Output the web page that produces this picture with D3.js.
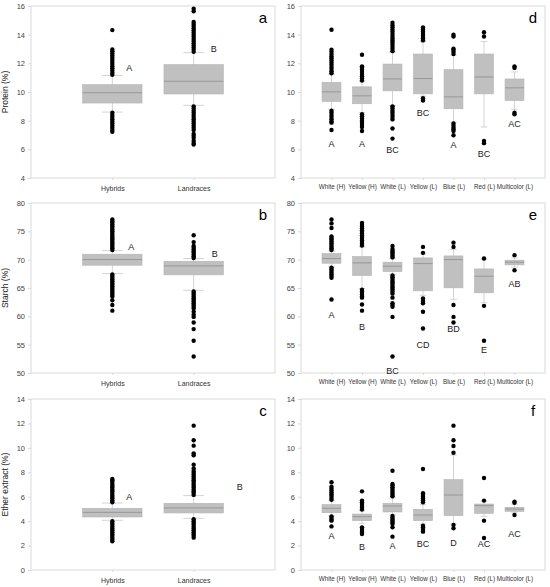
<!DOCTYPE html>
<html>
<head>
<meta charset="utf-8">
<script src="https://cdn.jsdelivr.net/npm/d3@7"></script>
<style>
  body { margin: 0; background: #fff; }
  svg { font-family: "Liberation Sans", Arial, sans-serif; }
</style>
</head>
<body>
<svg width="550" height="587"></svg>
<script>
// Categories
const groupCats = ["Hybrids", "Landraces"];
const colorCats = ["White (H)", "Yellow (H)", "White (L)", "Yellow (L)", "Blue (L)", "Red (L)", "Multicolor (L)"];

// Box stats per category: [lowWhisker, q1, median, q3, highWhisker]
// Panel a: protein by group
const proteinGroup = [
  [8.6, 9.23, 9.95, 10.51, 11.15],
  [9.07, 9.86, 10.75, 11.91, 12.75]
];
const proteinGroupOut = [
  [11.2, 11.35, 11.5, 11.65, 11.8, 11.95, 12.1, 12.25, 12.4, 12.55, 12.7, 12.85, 12.96, 14.32,
   8.55, 8.4, 8.25, 8.1, 7.95, 7.8, 7.65, 7.5, 7.35, 7.22],
  [12.8, 12.95, 13.1, 13.25, 13.4, 13.55, 13.7, 13.85, 14.0, 14.15, 14.3, 14.45, 14.6, 14.75, 14.88, 15.63, 15.81,
   9.0, 8.85, 8.7, 8.55, 8.4, 8.25, 8.1, 7.95, 7.8, 7.65, 7.5, 7.35, 7.08, 6.95, 6.8, 6.6, 6.45, 6.33]
];
const proteinGroupLetters = ["A", "B"];
const proteinGroupLetterY = [11.68, 12.99];

// Panel b: starch by group
const starchGroup = [
  [67.55, 69.02, 70.02, 70.96, 71.6],
  [64.6, 67.32, 68.9, 69.72, 70.2]
];
const starchGroupOut = [
  [71.7, 72.0, 72.3, 72.6, 72.9, 73.2, 73.5, 73.8, 74.1, 74.4, 74.7, 75.0, 75.3, 75.6, 75.9, 76.2, 76.5, 76.8, 77.1,
   67.4, 67.1, 66.8, 66.5, 66.2, 65.9, 65.6, 65.3, 65.0, 64.7, 64.4, 64.1, 63.8, 63.5, 62.85, 62.0, 61.0],
  [70.3, 70.6, 70.9, 71.2, 71.5, 71.8, 72.1, 72.4, 73.1, 74.3,
   64.4, 64.1, 63.8, 63.5, 63.2, 62.9, 62.6, 62.3, 62.0, 61.7, 61.4, 60.8, 60.3, 59.9, 58.9, 57.75, 55.7, 52.9]
];
const starchGroupLetters = ["A", "B"];
const starchGroupLetterY = [72.25, 70.96];

// Panel c: ether extract by group
const etherGroup = [
  [4.07, 4.34, 4.72, 5.05, 5.48],
  [4.23, 4.67, 5.08, 5.46, 6.09]
];
const etherGroupOut = [
  [5.55, 5.7, 5.85, 6.0, 6.15, 6.3, 6.45, 6.6, 6.75, 6.9, 7.05, 7.2, 7.35, 7.45,
   4.0, 3.85, 3.7, 3.55, 3.4, 3.25, 3.1, 2.95, 2.8, 2.65, 2.5, 2.35],
  [6.15, 6.3, 6.45, 6.6, 6.75, 6.9, 7.05, 7.2, 7.35, 7.5, 7.65, 7.8, 7.95, 8.1, 8.3, 8.62, 9.4, 9.55, 10.18, 10.62, 11.82,
   4.15, 4.0, 3.85, 3.7, 3.55, 3.4, 3.25, 3.1, 2.95, 2.8, 2.65]
];
const etherGroupLetters = ["A", "B"];
const etherGroupLetterY = [6.0, 6.77];

// Panel d: protein by colour
const proteinColor = [
  [8.79, 9.34, 10.01, 10.68, 11.24],
  [8.55, 9.18, 9.73, 10.36, 10.73],
  [9.06, 10.08, 10.91, 11.95, 12.79],
  [9.71, 9.87, 10.94, 12.65, 13.53],
  [7.9, 8.83, 9.66, 11.56, 12.58],
  [7.56, 9.87, 11.05, 12.65, 13.53],
  [8.79, 9.41, 10.29, 10.91, 11.4]
];
const proteinColorOut = [
  [11.3, 11.45, 11.6, 11.75, 11.9, 12.05, 12.2, 12.35, 12.5, 12.65, 12.8, 12.95, 14.34,
   8.7, 8.55, 8.4, 8.25, 8.1, 7.95, 7.86, 7.35],
  [10.8, 10.95, 11.1, 11.25, 11.4, 11.55, 11.7, 11.79, 12.6,
   8.45, 8.3, 8.15, 8.0, 7.85, 7.7, 7.56, 7.28],
  [12.85, 13.0, 13.15, 13.3, 13.45, 13.6, 13.75, 13.9, 14.05, 14.2, 14.35, 14.5, 14.65, 14.84,
   9.0, 8.85, 8.7, 8.55, 8.4, 8.25, 8.09, 7.45, 6.75],
  [13.6, 13.75, 13.9, 14.05, 14.2, 14.35, 14.5, 9.57, 9.41],
  [12.65, 12.8, 12.95, 13.02, 13.87, 14.0, 7.8, 7.65, 7.5, 7.38, 7.28, 6.98],
  [13.87, 14.17, 6.59, 6.43],
  [11.68, 11.79, 8.55, 8.44]
];
const proteinColorLetters = ["A", "A", "BC", "BC", "A", "BC", "AC"];
const proteinColorLetterY = [6.4, 6.4, 5.94, 8.55, 6.29, 5.71, 7.75];

// Panel e: starch by colour
const starchColor = [
  [68.73, 69.37, 70.19, 71.07, 71.54],
  [64.9, 67.2, 69.43, 70.55, 72.25],
  [67.4, 67.9, 68.84, 69.55, 70.2],
  [63.7, 64.5, 69.31, 70.31, 71.0],
  [63.0, 65.03, 70.02, 70.66, 71.8],
  [62.4, 64.15, 67.08, 68.37, 70.0],
  [68.7, 69.08, 69.55, 69.9, 70.3]
];
const starchColorOut = [
  [71.7, 72.0, 72.3, 72.6, 72.9, 73.2, 73.5, 73.8, 74.1, 75.6, 76.4, 77.1,
   68.6, 68.3, 68.0, 67.7, 67.4, 67.1, 66.8, 62.97],
  [72.5, 72.8, 73.1, 73.4, 73.7, 74.0, 74.3, 74.6, 74.9, 75.2, 75.5, 75.8, 76.1, 76.5,
   64.7, 64.4, 64.1, 63.8, 63.5, 63.3, 62.1, 61.0],
  [70.4, 70.7, 71.0, 71.3, 71.6, 71.9, 72.4,
   67.2, 66.9, 66.6, 66.3, 66.0, 65.7, 65.4, 65.1, 64.8, 64.4, 64.0, 63.3, 62.3, 62.0, 61.7, 59.9, 52.9],
  [71.2, 72.25, 63.15, 62.7, 62.3, 60.8, 57.86],
  [72.25, 73.0, 62.0, 59.9, 58.9],
  [70.2, 61.85, 55.7],
  [70.8, 68.14]
];
const starchColorLetters = ["A", "B", "BC", "CD", "BD", "E", "AB"];
const starchColorLetterY = [60.2, 58.1, 50.35, 54.93, 57.86, 54.0, 65.67];

// Panel f: ether extract by colour
const etherColor = [
  [4.45, 4.69, 5.05, 5.35, 5.68],
  [3.82, 4.04, 4.37, 4.58, 4.86],
  [4.5, 4.75, 5.24, 5.46, 5.9],
  [3.77, 4.04, 4.5, 4.97, 5.35],
  [3.77, 4.45, 6.14, 7.4, 9.41],
  [4.4, 4.64, 5.27, 5.4, 5.6],
  [4.72, 4.8, 4.99, 5.13, 5.4]
];
const etherColorOut = [
  [5.75, 5.9, 6.05, 6.2, 6.35, 6.5, 6.65, 6.82, 7.18, 4.38, 4.25, 4.12, 4.04, 3.57],
  [4.95, 5.1, 5.25, 5.4, 5.55, 5.68, 6.44, 3.49, 3.35, 3.2, 3.05, 2.95],
  [6.03, 6.18, 6.33, 6.48, 6.63, 6.78, 6.93, 7.04, 8.13, 4.42, 4.28, 4.14, 4.0, 3.88, 3.77, 3.49, 2.73],
  [5.54, 5.7, 5.85, 6.0, 6.15, 6.28, 8.27, 3.63, 3.5, 3.35, 3.2, 3.14],
  [9.6, 10.15, 10.62, 11.82, 3.68, 3.41],
  [5.68, 7.53, 4.04, 2.62],
  [5.5, 5.6, 4.5]
];
const etherColorLetters = ["A", "B", "A", "BC", "D", "AC", "AC"];
const etherColorLetterY = [2.8, 1.9, 1.99, 2.13, 2.24, 2.13, 3.0];

// Axis settings
const proteinDomain = [4, 16], proteinTicks = [4, 6, 8, 10, 12, 14, 16];
const starchDomain = [50, 80], starchTicks = [50, 55, 60, 65, 70, 75, 80];
const etherDomain = [0, 14], etherTicks = [0, 2, 4, 6, 8, 10, 12, 14];

// Layout (pixels)
const svg = d3.select("svg");
const cols = [[31, 275], [301, 545]];
const rows = [[6, 178], [203, 373], [399, 570]];

const panels = [
  { tag: "a", col: 0, row: 0, cats: groupCats, stats: proteinGroup, out: proteinGroupOut,
    letters: proteinGroupLetters, letterY: proteinGroupLetterY, letterDx: [17, 20],
    domain: proteinDomain, ticks: proteinTicks, title: "Protein (%)" },
  { tag: "b", col: 0, row: 1, cats: groupCats, stats: starchGroup, out: starchGroupOut,
    letters: starchGroupLetters, letterY: starchGroupLetterY, letterDx: [19, 21],
    domain: starchDomain, ticks: starchTicks, title: "Starch (%)" },
  { tag: "c", col: 0, row: 2, cats: groupCats, stats: etherGroup, out: etherGroupOut,
    letters: etherGroupLetters, letterY: etherGroupLetterY, letterDx: [17, 46],
    domain: etherDomain, ticks: etherTicks, title: "Ether extract (%)" },
  { tag: "d", col: 1, row: 0, cats: colorCats, stats: proteinColor, out: proteinColorOut,
    letters: proteinColorLetters, letterY: proteinColorLetterY, letterDx: null,
    domain: proteinDomain, ticks: proteinTicks },
  { tag: "e", col: 1, row: 1, cats: colorCats, stats: starchColor, out: starchColorOut,
    letters: starchColorLetters, letterY: starchColorLetterY, letterDx: null,
    domain: starchDomain, ticks: starchTicks },
  { tag: "f", col: 1, row: 2, cats: colorCats, stats: etherColor, out: etherColorOut,
    letters: etherColorLetters, letterY: etherColorLetterY, letterDx: null,
    domain: etherDomain, ticks: etherTicks }
];

function drawPanel(p) {
  const [x0, x1] = cols[p.col];
  const [y0, y1] = rows[p.row];
  const small = p.cats.length > 2;

  const x = d3.scalePoint().domain(p.cats).range([x0, x1]).padding(1);
  const y = d3.scaleLinear().domain(p.domain).range([y1, y0]);
  const boxW = x.step() * (small ? 0.62 : 0.73);
  const capW = boxW * 0.35;

  const g = svg.append("g");

  // Frame
  g.append("rect")
   .attr("x", x0).attr("y", y0)
   .attr("width", x1 - x0).attr("height", y1 - y0)
   .attr("fill", "none").attr("stroke", "#d9d9d9").attr("stroke-width", 1);

  // Y axis
  const ya = g.append("g")
   .attr("transform", `translate(${x0},0)`)
   .call(d3.axisLeft(y).tickValues(p.ticks).tickSize(3).tickPadding(3));
  ya.select(".domain").remove();
  ya.selectAll("line").attr("stroke", "#d9d9d9");
  ya.selectAll("text").style("font-size", "7.5px").attr("fill", "#444");

  // X axis
  const xa = g.append("g")
   .attr("transform", `translate(0,${y1})`)
   .call(d3.axisBottom(x).tickSize(2).tickPadding(small ? 5 : 6));
  xa.select(".domain").remove();
  xa.selectAll("line").attr("stroke", "#d9d9d9");
  xa.selectAll("text").style("font-size", small ? "6.3px" : "7px").attr("fill", "#333");

  // Y title
  if (p.title) {
    g.append("text")
     .attr("transform", `translate(8,${(y0 + y1) / 2}) rotate(-90)`)
     .attr("text-anchor", "middle")
     .style("font-size", "8.5px")
     .attr("fill", "#222")
     .text(p.title);
  }

  // Boxes
  const data = p.cats.map((c, i) => ({ cat: c, s: p.stats[i], out: p.out[i] }));
  const box = g.selectAll(".box").data(data).enter().append("g").attr("class", "box");

  box.append("line")
     .attr("x1", d => x(d.cat)).attr("x2", d => x(d.cat))
     .attr("y1", d => y(d.s[0])).attr("y2", d => y(d.s[4]))
     .attr("stroke", "#d4d4d4").attr("stroke-width", 1);
  [0, 4].forEach(k => {
    box.append("line")
       .attr("x1", d => x(d.cat) - capW / 2).attr("x2", d => x(d.cat) + capW / 2)
       .attr("y1", d => y(d.s[k])).attr("y2", d => y(d.s[k]))
       .attr("stroke", "#d4d4d4").attr("stroke-width", 1);
  });
  box.append("rect")
     .attr("x", d => x(d.cat) - boxW / 2).attr("width", boxW)
     .attr("y", d => y(d.s[3])).attr("height", d => y(d.s[1]) - y(d.s[3]))
     .attr("fill", "#c0c0c0").attr("stroke", "#b3b3b3").attr("stroke-width", 0.6);
  box.append("line")
     .attr("x1", d => x(d.cat) - boxW / 2).attr("x2", d => x(d.cat) + boxW / 2)
     .attr("y1", d => y(d.s[2])).attr("y2", d => y(d.s[2]))
     .attr("stroke", "#8e8e8e").attr("stroke-width", 0.8);

  // Outliers
  box.selectAll("circle").data(d => d.out.map(v => ({ cat: d.cat, v })))
     .enter().append("circle")
     .attr("cx", d => x(d.cat)).attr("cy", d => y(d.v))
     .attr("r", 2.2).attr("fill", "#000");

  // Significance letters
  g.selectAll(".letter").data(p.cats).enter().append("text")
   .attr("x", (c, i) => x(c) + (p.letterDx ? p.letterDx[i] : 0))
   .attr("y", (c, i) => y(p.letterY[i]))
   .attr("dy", "0.35em")
   .attr("text-anchor", "middle")
   .style("font-size", "9px")
   .attr("fill", "#222")
   .text((c, i) => p.letters[i]);

  // Panel tag
  g.append("text")
   .attr("x", x1 - 12).attr("y", y0 + 12)
   .attr("dy", "0.35em")
   .attr("text-anchor", "middle")
   .style("font-size", "15px")
   .attr("fill", "#000")
   .text(p.tag);
}

panels.forEach(drawPanel);
</script>
</body>
</html>
